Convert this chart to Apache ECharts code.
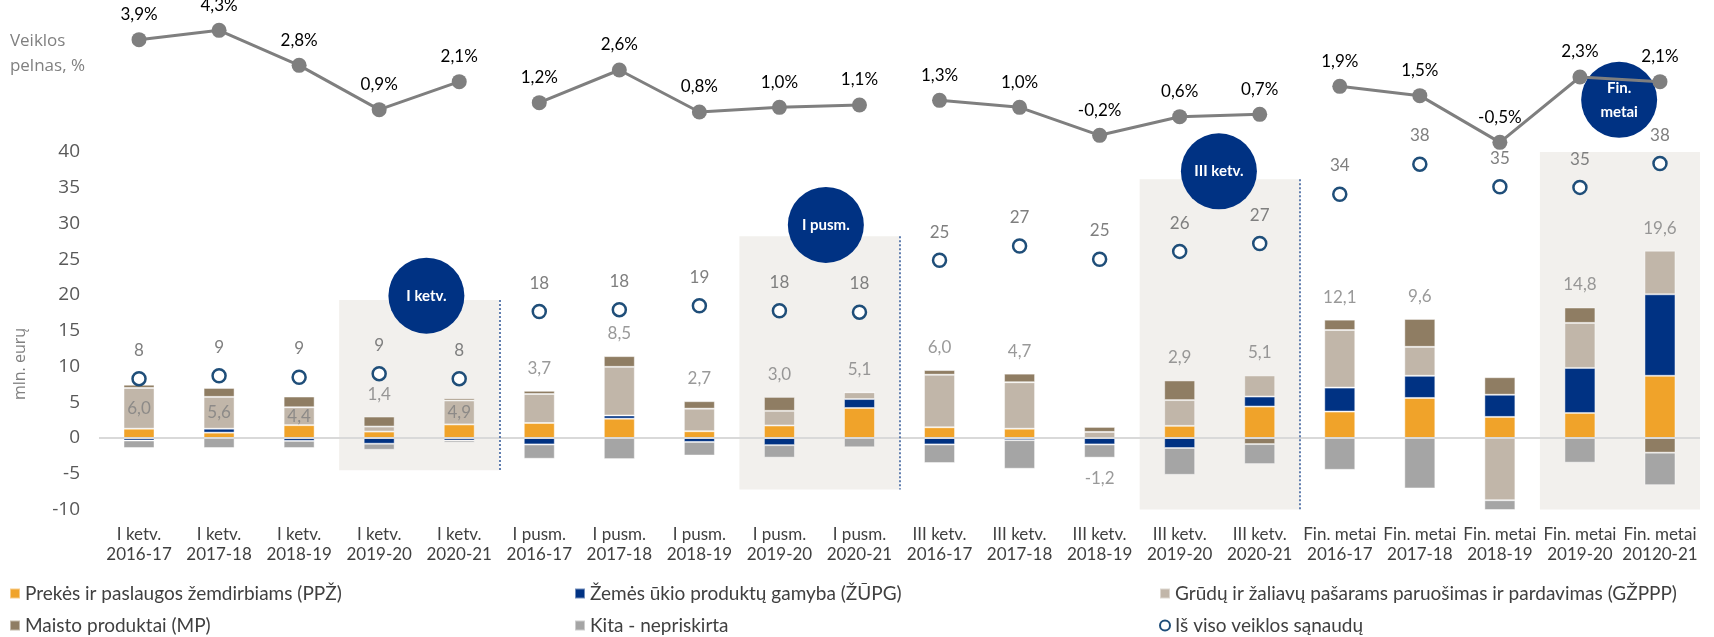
<!DOCTYPE html>
<html>
<head>
<meta charset="utf-8">
<script src="https://cdn.jsdelivr.net/npm/echarts@6/dist/echarts.min.js"></script>
<style>
  html, body { margin: 0; padding: 0; background: #fff; }
  #chart { width: 1714px; height: 637px; }
</style>
</head>
<body>
<div id="chart"></div>
<script>
// kategorijos
const categories = [
  'I ketv.\n2016-17', 'I ketv.\n2017-18', 'I ketv.\n2018-19', 'I ketv.\n2019-20', 'I ketv.\n2020-21',
  'I pusm.\n2016-17', 'I pusm.\n2017-18', 'I pusm.\n2018-19', 'I pusm.\n2019-20', 'I pusm.\n2020-21',
  'III ketv.\n2016-17', 'III ketv.\n2017-18', 'III ketv.\n2018-19', 'III ketv.\n2019-20', 'III ketv.\n2020-21',
  'Fin. metai\n2016-17', 'Fin. metai\n2017-18', 'Fin. metai\n2018-19', 'Fin. metai\n2019-20', 'Fin. metai\n20120-21'
];

// veiklos pelnas pagal segmentus, mln. eurų
const ppz   = [1.3, 0.75, 1.8, 0.9, 1.9,   2.1, 2.7, 0.95, 1.75, 4.2,   1.5, 1.3, 0, 1.7, 4.4,      3.7, 5.6, 2.95, 3.5, 8.7];
const zupg  = [-0.35, 0.55, -0.4, -0.8, -0.35, -0.9, 0.45, -0.55, -1.0, 1.25, -0.9, -0.3, -0.9, -1.4, 1.4, 3.35, 3.1, 3.1, 6.3, 11.4];
const gzppp = [5.7, 4.45, 2.5, 0.7, 3.35,  4.05, 6.8, 3.15, 2.05, 0.95,  7.35, 6.5, 0.85, 3.6, 2.95, 8.05, 4.05, -8.7, 6.3, 6.1];
const mp    = [0.45, 1.25, 1.5, 1.4, 0.3,  0.45, 1.5, 1.05, 1.95, 0,     0.65, 1.2, 0.7, 2.75, -0.85, 1.45, 3.9, 2.45, 2.15, -2.05];
const kita  = [-1.05, -1.4, -1.0, -0.85, -0.3, -2.0, -2.95, -1.9, -1.75, -1.3, -2.6, -4.0, -1.85, -3.75, -2.8, -4.45, -7.05, -1.6, -3.45, -4.55];

// iš viso veiklos sąnaudų
const total = [8.3, 8.7, 8.5, 9.0, 8.3, 17.7, 17.95, 18.5, 17.8, 17.6, 24.85, 26.85, 25.0, 26.1, 27.2, 34.1, 38.3, 35.15, 35.05, 38.4];
// veiklos pelnas (suma), rodomas virš stulpelių
const netProfit = [6.0, 5.6, 4.4, 1.4, 4.9, 3.7, 8.5, 2.7, 3.0, 5.1, 6.0, 4.7, -1.2, 2.9, 5.1, 12.1, 9.6, null, 14.8, 19.6];
// veiklos pelnas, %
const margin = [3.9, 4.3, 2.8, 0.9, 2.1, 1.2, 2.6, 0.8, 1.0, 1.1, 1.3, 1.0, -0.2, 0.6, 0.7, 1.9, 1.5, -0.5, 2.3, 2.1];

// y ašis
const yMin = -10, yMax = 40, yStep = 5;

// periodų grupės (pradžia, pabaiga)
const groups = [[0, 5], [5, 10], [10, 15], [15, 20]];

// paryškinti laikotarpiai: stulpelių indeksų ribos ir aukštis
const boxes = [
  { from: 2.5, to: 4.5, top: 19.3, bottom: -4.5 },
  { from: 7.5, to: 9.5, top: 28.2, bottom: -7.2 },
  { from: 12.5, to: 14.5, top: 36.2, bottom: -10 },
  { from: 17.5, to: 19.5, top: 47.8, bottom: -10 }
];
const dividers = [0, 1, 2]; // brūkšninės linijos po pirmų trijų dėžučių
const badges = [
  { x: 3.59, y: 19.9, text: 'I ketv.' },
  { x: 8.58, y: 29.8, text: 'I pusm.' },
  { x: 13.49, y: 37.3, text: 'III ketv.' },
  { x: 18.49, y: 47.3, text: 'Fin.\nmetai' }
];
const insideLabels = [0, 1, 2, 4];

// legenda: pavadinimas, stulpelis, eilutė
const legendItems = [
  ['Prekės ir paslaugos žemdirbiams (PPŽ)', 0, 0, 'rect'],
  ['Žemės ūkio produktų gamyba (ŽŪPG)', 1, 0, 'rect'],
  ['Grūdų ir žaliavų pašarams paruošimas ir pardavimas (GŽPPP)', 2, 0, 'rect'],
  ['Maisto produktai (MP)', 0, 1, 'rect'],
  ['Kita - nepriskirta', 1, 1, 'rect'],
  ['Iš viso veiklos sąnaudų', 2, 1, 'circle']
];
const legendCols = [9, 574, 1159];
const legendRows = [584, 616];

const fmt1 = v => v.toFixed(1).replace('.', ',');
const FONT = 'Lato';

// etikečių vietos
const netAnchor = netProfit.map((v, i) => {
  if (v === null) return null;
  const parts = [ppz[i], zupg[i], gzppp[i], mp[i], kita[i]];
  const pos = parts.filter(p => p > 0).reduce((a, b) => a + b, 0);
  const neg = parts.filter(p => p < 0).reduce((a, b) => a + b, 0);
  if (insideLabels.includes(i)) {
    const base = Math.max(ppz[i], 0) + Math.max(zupg[i], 0);
    return { value: [i, base + gzppp[i] / 2, v], label: { position: 'inside' } };
  }
  if (v < 0) return { value: [i, neg, v], label: { position: 'bottom', distance: 12 } };
  return { value: [i, pos, v], label: { position: 'top', distance: 14 } };
}).filter(d => d);

const chart = echarts.init(document.getElementById('chart'));

const barStyle = color => ({ color: color, borderColor: 'rgba(255,255,255,0.45)', borderWidth: 1 });
const barSeries = (name, data, color) => ({
  name: name, type: 'bar', stack: 'seg', data: data, barWidth: 31,
  xAxisIndex: 0, yAxisIndex: 0, itemStyle: barStyle(color), z: 3
});

const lineSeries = groups.map(([a, b]) => ({
  type: 'line', xAxisIndex: 2, yAxisIndex: 1,
  data: margin.map((v, i) => (i >= a && i < b ? v : '-')),
  symbol: 'circle', symbolSize: 15,
  lineStyle: { color: '#7F7F7F', width: 3 },
  itemStyle: { color: '#7F7F7F' },
  label: {
    show: true, position: 'top', distance: 9,
    color: '#000', fontSize: 17, fontFamily: FONT,
    formatter: p => fmt1(p.value) + '%'
  },
  labelLayout: p => (p.rect.y < 6 ? { y: 8 } : {}),
  z: 6, silent: true
}));

chart.setOption({
  animation: false,
  textStyle: { fontFamily: FONT },
  grid: [
    { left: 99, right: 14, top: 152, bottom: 127.5 },
    { left: 99, right: 14, top: 14, height: 140 }
  ],
  xAxis: [
    {
      type: 'category', data: categories, gridIndex: 0,
      axisLine: { show: false }, axisTick: { show: false },
      axisLabel: { interval: 0, color: '#404040', fontSize: 17, lineHeight: 20, margin: 15, fontFamily: FONT }
    },
    { type: 'value', gridIndex: 0, min: -0.5, max: 19.5, show: false },
    { type: 'category', data: categories, gridIndex: 1, show: false }
  ],
  yAxis: [
    {
      type: 'value', gridIndex: 0, min: yMin, max: yMax, interval: yStep,
      axisLine: { show: false }, axisTick: { show: false }, splitLine: { show: false },
      axisLabel: { color: '#595959', fontSize: 19, fontFamily: 'Open Sans', margin: 19 }
    },
    { type: 'value', gridIndex: 1, min: -1, max: 5, show: false }
  ],
  legend: legendItems.map(([name, col, row, icon]) => ({
    left: legendCols[col], top: legendRows[row], itemWidth: 10, itemHeight: 10, padding: 0,
    textStyle: { color: '#404040', fontSize: 19, fontFamily: FONT },
    data: [{ name: name, icon: icon }]
  })),
  graphic: [
    {
      type: 'text', right: 1714 - 85, top: 29,
      style: { text: 'Veiklos\npelnas, %', align: 'right', fill: '#808080', font: '17px "Open Sans"', lineHeight: 25 }
    },
    {
      type: 'text', x: 20, y: 364, rotation: Math.PI / 2,
      style: { text: 'mln. eurų', align: 'center', verticalAlign: 'middle', fill: '#808080', font: '16px "Open Sans"' }
    }
  ],
  series: [
    // fono dėžutės, brūkšninės linijos ir nulio linija
    {
      type: 'line', xAxisIndex: 1, yAxisIndex: 0, data: [], clip: false, silent: true, z: 0,
      markArea: {
        silent: true,
        itemStyle: { color: '#F2F0ED' },
        data: boxes.map(b => [{ xAxis: b.from, yAxis: b.top }, { xAxis: b.to, yAxis: b.bottom }])
      },
      markLine: {
        silent: true, symbol: 'none', label: { show: false },
        data: [
          [{ yAxis: 0, xAxis: -0.5, lineStyle: { color: '#D9D9D9', width: 2, type: 'solid' } }, { yAxis: 0, xAxis: 19.5 }]
        ].concat(dividers.map(k => [
          { xAxis: boxes[k].to, yAxis: boxes[k].top, lineStyle: { color: '#2F5597', width: 1.5, type: [2, 2] } },
          { xAxis: boxes[k].to, yAxis: boxes[k].bottom }
        ]))
      }
    },
    barSeries('Prekės ir paslaugos žemdirbiams (PPŽ)', ppz, '#F0A32A'),
    barSeries('Žemės ūkio produktų gamyba (ŽŪPG)', zupg, '#003283'),
    barSeries('Grūdų ir žaliavų pašarams paruošimas ir pardavimas (GŽPPP)', gzppp, '#C1B6A9'),
    barSeries('Maisto produktai (MP)', mp, '#8F7D63'),
    barSeries('Kita - nepriskirta', kita, '#A5A5A5'),
    {
      name: 'Iš viso veiklos sąnaudų', type: 'scatter', xAxisIndex: 0, yAxisIndex: 0,
      data: total, symbol: 'circle', symbolSize: 13, z: 5,
      itemStyle: { color: '#fff', borderColor: '#1F4E79', borderWidth: 2.5, opacity: 1 },
      label: {
        show: true, position: 'top', distance: 12, color: '#7F7F7F', fontSize: 17, fontFamily: FONT,
        formatter: p => String(Math.round(p.value))
      }
    },
    {
      name: 'net', type: 'scatter', xAxisIndex: 0, yAxisIndex: 0, symbolSize: 0, z: 5, silent: true,
      data: netAnchor,
      label: {
        show: true, color: '#7F7F7F', fontSize: 17, fontFamily: FONT,
        formatter: p => fmt1(p.value[2])
      }
    },
    {
      type: 'scatter', xAxisIndex: 1, yAxisIndex: 0, clip: false, silent: true, z: 2,
      symbolSize: 76, itemStyle: { color: '#003283', opacity: 1 },
      data: badges.map(b => [b.x, b.y, b.text]),
      label: {
        show: true, position: 'inside', color: '#fff', fontSize: 15, fontWeight: 'bold',
        fontFamily: FONT, lineHeight: 24, formatter: p => p.value[2]
      }
    }
  ].concat(lineSeries)
});
</script>
</body>
</html>
